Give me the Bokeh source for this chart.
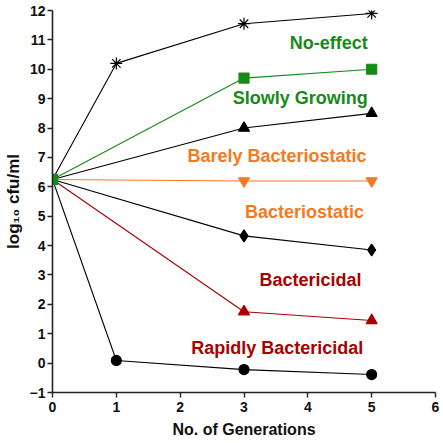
from bokeh.plotting import figure
from bokeh.models import Range1d, FixedTicker
from bokeh.core.properties import value
from bokeh.embed import file_html
from bokeh.resources import INLINE

# ---- data ----
no_effect_x = [0, 1, 3, 5]
no_effect_y = [6.25, 10.2, 11.55, 11.9]
slowly_x = [0, 3, 5]
slowly_y = [6.25, 9.7, 10.0]
growing_x = [0, 3, 5]
growing_y = [6.25, 8.0, 8.5]
barely_x = [0, 3, 5]
barely_y = [6.25, 6.2, 6.2]
static_x = [0, 3, 5]
static_y = [6.25, 4.33, 3.85]
cidal_x = [0, 3, 5]
cidal_y = [6.25, 1.75, 1.45]
rapid_x = [0, 1, 3, 5]
rapid_y = [6.25, 0.09, -0.22, -0.39]

label_texts = ["No-effect", "Slowly Growing", "Barely Bacteriostatic",
               "Bacteriostatic", "Bactericidal", "Rapidly Bactericidal"]
label_x = [4.94, 4.94, 4.92, 4.88, 4.84, 4.87]
label_y = [10.89, 9.01, 7.06, 5.13, 2.84, 0.52]

x_ticks = [0, 1, 2, 3, 4, 5, 6]
y_ticks = list(range(-1, 13))

GREEN = "#178a17"
ORANGE = "#f47a22"
RED = "#a80000"
BLACK = "#000000"
label_colors = [GREEN, GREEN, ORANGE, ORANGE, RED, RED]

FONT = "Liberation Sans"

p = figure(width=440, height=440, output_backend="svg", toolbar_location=None,
           x_range=Range1d(0, 6), y_range=Range1d(-1, 12),
           min_border_left=51, min_border_right=5, min_border_top=10,
           min_border_bottom=47)
p.outline_line_color = None
p.xgrid.grid_line_color = None
p.ygrid.grid_line_color = None

# series
def series(xs, ys, color, marker, size, marker_from=1, fill=None):
    p.line(xs, ys, line_color=color, line_width=1.1)
    p.scatter(xs[marker_from:], ys[marker_from:], marker=marker, size=size,
              line_color=color, fill_color=fill if fill is not None else color,
              line_width=1.2)

series(no_effect_x, no_effect_y, BLACK, "asterisk", 12)
series(growing_x, growing_y, BLACK, "triangle", 11)
series(barely_x, barely_y, ORANGE, "inverted_triangle", 11)
series(static_x, static_y, BLACK, "diamond", 12)
series(cidal_x, cidal_y, RED, "triangle", 11)
series(rapid_x, rapid_y, BLACK, "circle", 10)
series(slowly_x, slowly_y, GREEN, "square", 10, marker_from=0)

p.text(x=label_x, y=label_y, text=label_texts, text_color=label_colors,
       text_font=value(FONT), text_font_style="bold", text_font_size="18px",
       text_align="right", text_baseline="middle")

for ax in (p.xaxis[0], p.yaxis[0]):
    ax.axis_line_width = 1.6
    ax.axis_line_color = "#222222"
    ax.major_tick_line_width = 1.4
    ax.major_tick_line_color = "#222222"
    ax.major_tick_in = 0
    ax.major_tick_out = 5
    ax.minor_tick_line_color = None
    ax.major_label_text_font = FONT
    ax.major_label_text_font_style = "bold"
    ax.major_label_text_font_size = "14px"
    ax.major_label_text_color = "#111111"
    ax.axis_label_text_font = FONT
    ax.axis_label_text_font_style = "bold"
    ax.axis_label_text_color = "#111111"

p.xaxis.ticker = FixedTicker(ticks=x_ticks)
p.yaxis.ticker = FixedTicker(ticks=y_ticks)
p.xaxis.major_label_standoff = 4
p.yaxis.major_label_standoff = 2
p.xaxis.axis_label = "No. of Generations"
p.xaxis.axis_label_text_font_size = "16px"
p.xaxis.axis_label_standoff = 6
p.yaxis.axis_label = "log\u2081\u2080 cfu/ml"
p.yaxis.axis_label_text_font_size = "17px"
p.yaxis.axis_label_standoff = 4

open("out.html", "w").write(file_html(p, INLINE))
